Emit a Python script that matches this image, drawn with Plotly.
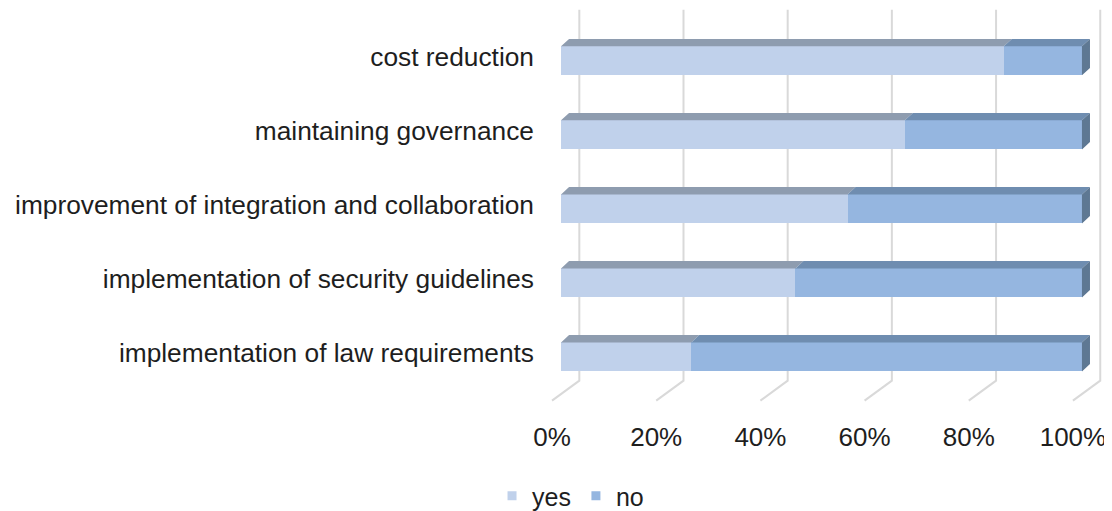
import plotly.graph_objects as go

# categories listed top to bottom as in the chart
categories = [
    "cost reduction",
    "maintaining governance",
    "improvement of integration and collaboration",
    "implementation of security guidelines",
    "implementation of law requirements",
]
yes_pct = [85, 66, 55, 45, 25]
no_pct = [15, 34, 45, 55, 75]
tick_vals = [0, 20, 40, 60, 80, 100]
tick_text = ["0%", "20%", "40%", "60%", "80%", "100%"]

# 3d look (in axis units)
BAR_W = 0.392
DX, DY = 1.54, 0.10          # depth of the bar top/side faces
BACK_DX = 3.51               # back wall offset
FLOOR_DX = -1.73             # front edge of the floor
Y_TOP, Y_FLOOR_BACK, Y_FLOOR_FRONT = 4.69, -0.32, -0.59

YES_FRONT, YES_TOP = "#C0D1EB", "#8E9CAF"
NO_FRONT, NO_TOP, NO_SIDE = "#95B6E0", "#6F8DB0", "#5E7893"
FONT = "Liberation Sans, Arial, sans-serif"
TXT = "#1E1E1E"

n = len(categories)
ypos = [n - 1 - i for i in range(n)]

fig = go.Figure()

# wall + floor gridlines, kept under the bars
grid_shapes = []
for t in tick_vals:
    grid_shapes.append(dict(
        type="path", xref="x", yref="y", layer="below",
        path=f"M{t + BACK_DX},{Y_TOP} L{t + BACK_DX},{Y_FLOOR_BACK} L{t + FLOOR_DX},{Y_FLOOR_FRONT}",
        line=dict(color="#D9D9D9", width=2)))

# front faces
fig.add_trace(go.Bar(y=ypos, x=yes_pct, orientation="h", width=BAR_W, name="yes",
                     marker=dict(color=YES_FRONT, line=dict(width=0)), showlegend=False))
fig.add_trace(go.Bar(y=ypos, x=no_pct, orientation="h", width=BAR_W, name="no",
                     marker=dict(color=NO_FRONT, line=dict(width=0)), showlegend=False))


def top_faces(starts, lengths):
    xs, ys = [], []
    for y, s, l in zip(ypos, starts, lengths):
        yt = y + BAR_W / 2
        xs += [s, s + l, s + l + DX, s + DX, s, None]
        ys += [yt, yt, yt + DY, yt + DY, yt, None]
    return xs, ys


tx, ty = top_faces([0] * n, yes_pct)
fig.add_trace(go.Scatter(x=tx, y=ty, fill="toself", fillcolor=YES_TOP, mode="none",
                         hoverinfo="skip", showlegend=False))
tx, ty = top_faces(yes_pct, no_pct)
fig.add_trace(go.Scatter(x=tx, y=ty, fill="toself", fillcolor=NO_TOP, mode="none",
                         hoverinfo="skip", showlegend=False))

# right side faces of the stack
sx, sy = [], []
for y, a, b in zip(ypos, yes_pct, no_pct):
    e = a + b
    sx += [e, e + DX, e + DX, e, e, None]
    sy += [y - BAR_W / 2, y - BAR_W / 2 + DY, y + BAR_W / 2 + DY, y + BAR_W / 2, y - BAR_W / 2, None]
fig.add_trace(go.Scatter(x=sx, y=sy, fill="toself", fillcolor=NO_SIDE, mode="none",
                         hoverinfo="skip", showlegend=False))

# legend entries
for name, col in [("yes", YES_FRONT), ("no", NO_FRONT)]:
    fig.add_trace(go.Scatter(x=[None], y=[None], mode="markers", name=name,
                             marker=dict(symbol="square", size=9, color=col)))

# page body adds an 8px margin, so the figure sits 8px in from the top-left
fig.update_layout(
    width=1104, height=511,
    margin=dict(l=527, r=4, t=0, b=93.5),
    barmode="stack",
    plot_bgcolor="white", paper_bgcolor="white",
    font=dict(family=FONT, size=26, color=TXT),
    shapes=grid_shapes,
    xaxis=dict(range=[-5, 105], tickvals=[t + FLOOR_DX for t in tick_vals], ticktext=tick_text,
               showgrid=False, zeroline=False, showline=False, automargin=False,
               ticks="", tickfont=dict(size=26, color=TXT)),
    yaxis=dict(range=[-0.838, 4.714], tickvals=[y + 0.06 for y in ypos], ticktext=categories,
               showgrid=False, zeroline=False, showline=False, automargin=False,
               ticks="", tickfont=dict(size=26.3, color=TXT)),
    legend=dict(orientation="h", x=-0.075, xanchor="left", y=-0.188, yanchor="middle",
                traceorder="normal", font=dict(size=25, color=TXT), itemwidth=30),
    showlegend=True,
)

fig.write_html("out.html")
